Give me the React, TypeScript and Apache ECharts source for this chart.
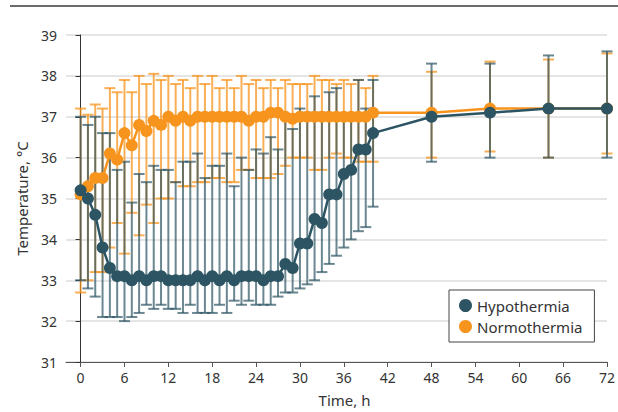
import React, { useEffect, useRef } from "react";
import * as echarts from "echarts";

const hours = [0,1,2,3,4,5,6,7,8,9,10,11,12,13,14,15,16,17,18,19,20,21,22,23,24,25,26,27,28,29,30,31,32,33,34,35,36,37,38,39,40,48,56,64,72];

const hypoMean = [35.2,35.0,34.6,33.8,33.3,33.1,33.1,33.0,33.1,33.0,33.1,33.1,33.0,33.0,33.0,33.0,33.1,33.0,33.1,33.0,33.1,33.0,33.1,33.1,33.1,33.0,33.1,33.1,33.4,33.3,33.9,33.9,34.5,34.4,35.1,35.1,35.6,35.7,36.2,36.2,36.6,37.0,37.1,37.2,37.2];
const hypoUpper = [37.0,36.8,37.0,36.6,36.6,35.7,35.9,34.9,35.6,35.4,35.8,35.7,35.7,35.4,35.9,35.9,36.1,35.5,35.8,35.8,36.1,35.3,36.0,35.7,36.2,36.1,36.5,36.2,37.0,36.7,37.2,37.1,37.5,37.1,37.6,37.7,37.0,37.0,37.9,37.2,37.9,38.3,38.3,38.5,38.6];
const hypoLower = [33.0,32.8,32.6,32.1,32.1,32.1,32.0,32.1,32.2,32.4,32.3,32.4,32.3,32.3,32.2,32.4,32.2,32.2,32.2,32.4,32.2,32.5,32.4,32.5,32.4,32.4,32.4,32.6,32.7,32.7,32.8,32.9,33.0,33.2,33.4,33.6,33.8,34.0,34.2,34.3,34.8,35.9,36.0,36.0,36.0];

const normoMean = [35.1,35.3,35.5,35.5,36.1,35.95,36.6,36.3,36.8,36.65,36.9,36.8,37.0,36.9,37.0,36.9,37.0,37.0,37.0,37.0,37.0,37.0,37.0,36.9,37.0,37.0,37.1,37.1,37.0,36.95,37.0,37.0,37.0,37.0,37.0,37.0,37.0,37.0,37.0,37.0,37.1,37.1,37.2,37.2,37.2];
const normoUpper = [37.2,37.05,37.3,37.2,37.7,37.6,37.9,37.6,38.0,37.8,38.05,37.9,38.0,37.8,37.9,37.7,38.0,37.8,38.0,37.7,37.9,37.7,38.0,37.8,37.9,37.7,37.9,37.7,37.9,37.8,37.8,37.8,38.0,37.9,37.9,37.8,37.9,37.8,37.9,37.7,38.0,38.1,38.35,38.4,38.55];
const normoLower = [32.7,33.0,33.2,33.2,33.8,34.4,33.65,34.65,34.1,34.85,34.4,35.0,35.0,35.4,35.3,35.3,35.4,35.4,35.5,35.5,35.4,35.4,35.7,35.7,35.5,35.5,35.5,35.6,35.8,36.0,36.0,36.0,35.7,35.7,36.0,36.1,36.0,36.0,35.9,35.9,35.9,36.0,36.15,36.0,36.1];

const xTicks = [0,6,12,18,24,30,36,42,48,54,60,66,72];
const seriesNames = ["Hypothermia", "Normothermia"];

const DARK = "#2C5463";
const ORANGE = "#F7941D";
const FONT = "Noto Sans";

function errorRender(stroke: string) {
  return (params: any, api: any) => {
    const x = api.value(0);
    const lo = api.value(1);
    const hi = api.value(2);
    const pHi = api.coord([x, hi]);
    const pLo = api.coord([x, lo]);
    const hw = 5.5;
    const style = { stroke, lineWidth: 2, fill: "none" };
    return {
      type: "group",
      children: [
        { type: "line", shape: { x1: pHi[0], y1: pHi[1], x2: pLo[0], y2: pLo[1] }, style },
        { type: "line", shape: { x1: pHi[0] - hw, y1: pHi[1], x2: pHi[0] + hw, y2: pHi[1] }, style },
        { type: "line", shape: { x1: pLo[0] - hw, y1: pLo[1], x2: pLo[0] + hw, y2: pLo[1] }, style },
      ],
    };
  };
}

export default function App() {
  const ref = useRef<HTMLDivElement>(null);
  useEffect(() => {
    if (!ref.current) return;
    const chart = echarts.init(ref.current, null, { renderer: "svg" });
    const hypoErr = hours.map((h, i) => [h, hypoLower[i], hypoUpper[i]]);
    const normoErr = hours.map((h, i) => [h, normoLower[i], normoUpper[i]]);
    chart.setOption({
      animation: false,
      textStyle: { fontFamily: FONT },
      graphic: [
        {
          type: "line",
          shape: { x1: 10, y1: 6, x2: 618, y2: 6 },
          style: { stroke: "#3a3a3a", lineWidth: 1.5 },
        },
      ],
      grid: { left: 66, right: 9, top: 35, bottom: 50 },
      legend: {
        data: seriesNames,
        orient: "vertical",
        left: 449,
        top: 290,
        padding: [8, 12, 8, 10],
        itemGap: 6,
        itemWidth: 13,
        itemHeight: 13,
        itemTextGap: 11,
        icon: "circle",
        borderColor: "#444",
        borderWidth: 1,
        backgroundColor: "#fff",
        textStyle: { fontSize: 15, color: "#333", fontFamily: FONT },
      },
      xAxis: {
        type: "value",
        min: -2,
        max: 72,
        name: "Time, h",
        nameLocation: "middle",
        nameGap: 30,
        nameTextStyle: { fontSize: 15, color: "#333", fontFamily: FONT, padding: [0, 0, 0, 16] },
        axisLine: { lineStyle: { color: "#555", width: 1 } },
        axisTick: { show: true, length: 5, lineStyle: { color: "#555" }, customValues: xTicks },
        axisLabel: { fontSize: 14, color: "#333", margin: 8, fontFamily: FONT, customValues: xTicks },
        splitLine: { show: false },
      },
      yAxis: {
        type: "value",
        min: 31,
        max: 39,
        interval: 1,
        name: "Temperature, °C",
        nameLocation: "middle",
        nameGap: 37,
        nameTextStyle: { fontSize: 15, color: "#333", fontFamily: FONT },
        axisLine: { show: true, lineStyle: { color: "#333", width: 1 } },
        axisTick: { show: true, length: 5, lineStyle: { color: "#333" } },
        axisLabel: { fontSize: 14, color: "#333", margin: 9, fontFamily: FONT },
        splitLine: { show: true, lineStyle: { color: "#dcdcdc", width: 1.5 } },
      },
      series: [
        {
          name: "Normothermia error",
          type: "custom",
          renderItem: errorRender("rgba(247,148,29,0.75)"),
          data: normoErr,
          encode: { x: 0, y: [1, 2] },
          z: 1,
        },
        {
          name: "Hypothermia error",
          type: "custom",
          renderItem: errorRender("rgba(44,84,99,0.7)"),
          data: hypoErr,
          encode: { x: 0, y: [1, 2] },
          z: 2,
        },
        {
          name: "Normothermia",
          type: "line",
          data: hours.map((h, i) => [h, normoMean[i]]),
          symbol: "circle",
          symbolSize: 12,
          itemStyle: { color: ORANGE },
          lineStyle: { color: ORANGE, width: 2.5 },
          z: 3,
        },
        {
          name: "Hypothermia",
          type: "line",
          data: hours.map((h, i) => [h, hypoMean[i]]),
          symbol: "circle",
          symbolSize: 12,
          itemStyle: { color: DARK },
          lineStyle: { color: DARK, width: 2.5 },
          z: 4,
        },
      ],
    });
    return () => chart.dispose();
  }, []);
  return (
    <div
      ref={ref}
      style={{ position: "fixed", left: 0, top: 0, width: 618, height: 412, background: "#fff" }}
    />
  );
}
